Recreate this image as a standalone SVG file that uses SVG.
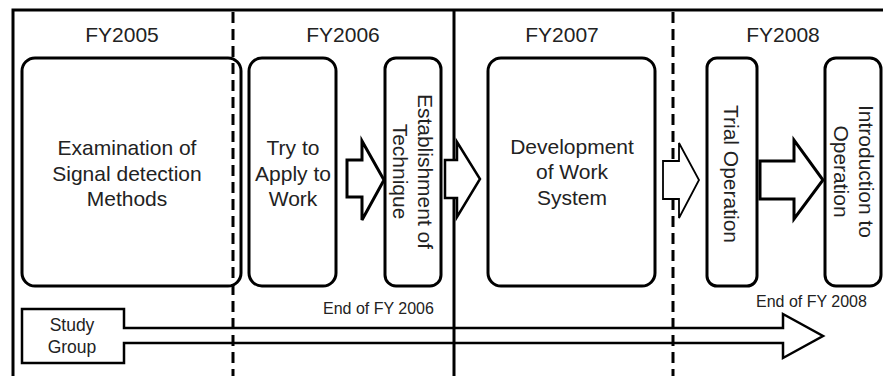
<svg xmlns="http://www.w3.org/2000/svg" width="883" height="376" viewBox="0 0 883 376">
<style>
  .t { font-family: "Liberation Sans", Arial, sans-serif; fill: #222; text-anchor: middle; }
  .big { font-size: 21px; }
  .sm { font-size: 16px; text-anchor: start; }
  .sg { font-size: 17.5px; }
  .box { fill: #fff; stroke: #000; stroke-width: 3; }
  .frame { fill: none; stroke: #000; stroke-width: 3; }
  .dash { fill: none; stroke: #000; stroke-width: 3; stroke-dasharray: 11 6; }
  .blk { fill: #fff; stroke: #000; stroke-linejoin: miter; }
</style>
<rect width="883" height="376" fill="#fff"/>
<g id="frame">
  <path class="frame" d="M13,376 V10 H883"/>
  <line class="frame" x1="454" y1="10" x2="454" y2="376"/>
  <line class="dash" x1="233" y1="12" x2="233" y2="376"/>
  <line class="dash" x1="673" y1="12" x2="673" y2="376"/>
</g>
<g id="headers">
  <text class="t big" x="122" y="42">FY2005</text>
  <text class="t big" x="343" y="42">FY2006</text>
  <text class="t big" x="562" y="42">FY2007</text>
  <text class="t big" x="783" y="42">FY2008</text>
</g>
<g id="examination">
  <rect x="22" y="58" width="219" height="228" rx="13" fill="none" stroke="#000" stroke-width="3"/>
  <text class="t big" x="127" y="155">Examination of</text>
  <text class="t big" x="127" y="180.5">Signal detection</text>
  <text class="t big" x="127" y="206">Methods</text>
</g>
<g id="try-apply">
  <rect class="box" x="249" y="58" width="87" height="228" rx="13"/>
  <text class="t big" x="293" y="155">Try to</text>
  <text class="t big" x="293" y="180.5">Apply to</text>
  <text class="t big" x="293" y="206">Work</text>
</g>
<g id="establishment">
  <rect class="box" x="385" y="58" width="56" height="228" rx="11"/>
  <text class="t big" transform="translate(418,171.5) rotate(90)" x="0" y="0">Establishment of</text>
  <text class="t big" transform="translate(418,171.5) rotate(90)" x="0" y="25">Technique</text>
</g>
<g id="development">
  <rect class="box" x="488" y="58" width="167" height="228" rx="13"/>
  <text class="t big" x="572" y="153.5">Development</text>
  <text class="t big" x="572" y="179">of Work</text>
  <text class="t big" x="572" y="204.5">System</text>
</g>
<g id="trial">
  <rect class="box" x="707" y="58" width="50" height="228" rx="10"/>
  <text class="t big" transform="translate(724,174) rotate(90)" x="0" y="0">Trial Operation</text>
</g>
<g id="introduction">
  <rect class="box" x="825" y="58" width="56" height="228" rx="11"/>
  <text class="t big" transform="translate(859,171.5) rotate(90)" x="0" y="0">Introduction to</text>
  <text class="t big" transform="translate(859,171.5) rotate(90)" x="0" y="25">Operation</text>
</g>
<g id="study-group">
  <path d="M22,309 H124 V328 H783 V314 L823,336 L783,358 V343 H124 V363 H22 Z" fill="none" stroke="#000" stroke-width="2.5" stroke-linejoin="miter"/>
  <text class="t sg" x="72" y="331">Study</text>
  <text class="t sg" x="72" y="353">Group</text>
</g>
<g id="labels">
  <text class="t sm" x="323" y="314">End of FY 2006</text>
  <text class="t sm" x="756" y="307">End of FY 2008</text>
</g>
<g id="connectors">
  <path class="blk" stroke-width="3" d="M347,160 H362 V141 L384,180 L362,220 V197 H347 Z"/>
  <path class="blk" stroke-width="2.5" d="M445,160 H457 V142 L480,179 L457,217 V198 H445 Z"/>
  <path class="blk" stroke-width="1.8" d="M663,161 H679 V143 L699,180 L679,218 V199 H663 Z"/>
  <path class="blk" stroke-width="3" d="M760,161 H794 V140 L823,180 L794,219 V199 H760 Z"/>
</g>
</svg>
